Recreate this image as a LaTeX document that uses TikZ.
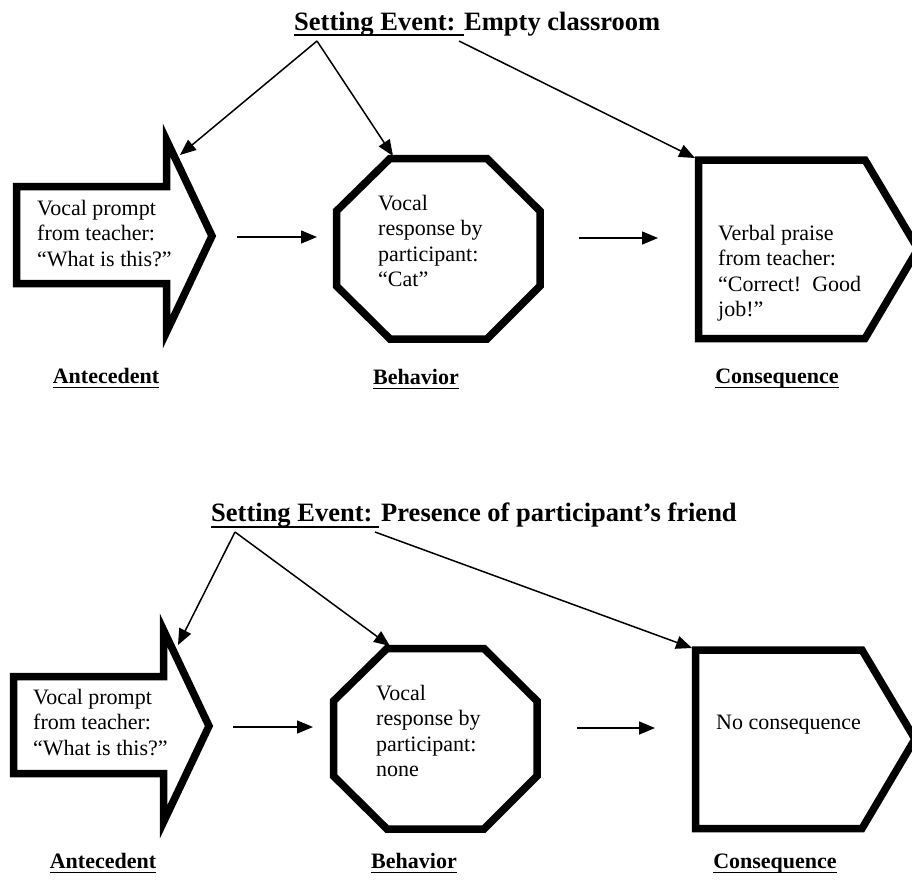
\documentclass[tikz,border=0pt]{standalone}
\usepackage{fontspec}
\setmainfont{Liberation Serif}
\usetikzlibrary{arrows.meta}
\begin{document}
\begin{tikzpicture}[x=1pt,y=-1pt,
  shp/.style={line width=7.5pt, line join=miter, miter limit=10},
  con/.style={line width=1.5pt, -{Triangle[length=16pt,width=13pt]}},
  body/.style={font=\fontsize{22}{25.5}\selectfont, inner sep=0pt, anchor=base west},
  lab/.style={font=\bfseries\fontsize{22}{26}\selectfont, inner sep=0pt, anchor=base},
  ttl/.style={font=\bfseries\fontsize{26.5}{30}\selectfont, inner sep=0pt, anchor=base west},
  ul/.style={line width=1.6pt}]
\useasboundingbox (0,0) rectangle (912,881);

% ---------------- top diagram ----------------
\node[ttl] (t1) at (294,30) {Setting Event: Empty classroom};
\coordinate (u1a) at (294,35);
\coordinate (u1b) at (464,35);
\draw[ul] (u1a) -- (u1b);
\coordinate (o1a) at (317,41);
\coordinate (o1b) at (459,41);

\draw[shp] (16.5,186.5) -- (166.5,186.5) -- (166.5,140) -- (212,236) -- (166.5,332) -- (166.5,283.5) -- (16.5,283.5) -- cycle;
\draw[shp] (390,158.5) -- (487,158.5) -- (540,211) -- (540,286) -- (487,339) -- (390,339) -- (336.5,286) -- (336.5,211) -- cycle;
\draw[shp] (698.5,160) -- (865,160) -- (918,249) -- (865,338.5) -- (698.5,338.5) -- cycle;

\node[body] (a1) at (37,215) {\begin{tabular}[t]{@{}l@{}}Vocal prompt\\from teacher:\\“What is this?”\end{tabular}};
\node[body] (b1) at (378,210) {\begin{tabular}[t]{@{}l@{}}Vocal\\response by\\participant:\\“Cat”\end{tabular}};
\node[body] (c1) at (718,240) {\begin{tabular}[t]{@{}l@{}}Verbal praise\\from teacher:\\“Correct!\ \ Good\\job!”\end{tabular}};

\coordinate (ta1) at (180,155);
\coordinate (tb1) at (393,156);
\coordinate (tc1) at (695,158);
\draw[con] (o1a) -- (ta1);
\draw[con] (o1a) -- (tb1);
\draw[con] (o1b) -- (tc1);

\coordinate (h1s) at (237,237);
\coordinate (h1e) at (317,237);
\coordinate (h2s) at (579,238);
\coordinate (h2e) at (658,238);
\draw[con] (h1s) -- (h1e);
\draw[con] (h2s) -- (h2e);

\node[lab] (la1) at (106,383) {Antecedent};
\node[lab] (lb1) at (416,384) {Behavior};
\node[lab] (lc1) at (777,383) {Consequence};
\foreach \n in {la1,lb1,lc1}
  \draw[ul] ([yshift=-4.5pt]\n.base west) -- ([yshift=-4.5pt]\n.base east);

% ---------------- bottom diagram ----------------
\node[ttl] (t2) at (211,521) {Setting Event: Presence of participant’s friend};
\coordinate (u2a) at (211,527);
\coordinate (u2b) at (379,527);
\draw[ul] (u2a) -- (u2b);
\coordinate (o2a) at (235,532);
\coordinate (o2b) at (375,532);

\begin{scope}[shift={(-3,490)}]
\draw[shp] (16.5,186.5) -- (166.5,186.5) -- (166.5,140) -- (212,236) -- (166.5,332) -- (166.5,283.5) -- (16.5,283.5) -- cycle;
\draw[shp] (390,158.5) -- (487,158.5) -- (540,211) -- (540,286) -- (487,339) -- (390,339) -- (336.5,286) -- (336.5,211) -- cycle;
\draw[shp] (698.5,160) -- (865,160) -- (918,249) -- (865,338.5) -- (698.5,338.5) -- cycle;
\end{scope}

\node[body] (a2) at (33,704) {\begin{tabular}[t]{@{}l@{}}Vocal prompt\\from teacher:\\“What is this?”\end{tabular}};
\node[body] (b2) at (376,700) {\begin{tabular}[t]{@{}l@{}}Vocal\\response by\\participant:\\none\end{tabular}};
\node[body] (c2) at (716,729) {No consequence};

\coordinate (ta2) at (178,645);
\coordinate (tb2) at (390,646);
\coordinate (tc2) at (692,648);
\draw[con] (o2a) -- (ta2);
\draw[con] (o2a) -- (tb2);
\draw[con] (o2b) -- (tc2);

\coordinate (h3s) at (233,727);
\coordinate (h3e) at (313,727);
\coordinate (h4s) at (577,728);
\coordinate (h4e) at (655,728);
\draw[con] (h3s) -- (h3e);
\draw[con] (h4s) -- (h4e);

\node[lab] (la2) at (103,868) {Antecedent};
\node[lab] (lb2) at (414,868) {Behavior};
\node[lab] (lc2) at (775,868) {Consequence};
\foreach \n in {la2,lb2,lc2}
  \draw[ul] ([yshift=-4.5pt]\n.base west) -- ([yshift=-4.5pt]\n.base east);
\end{tikzpicture}
\end{document}
